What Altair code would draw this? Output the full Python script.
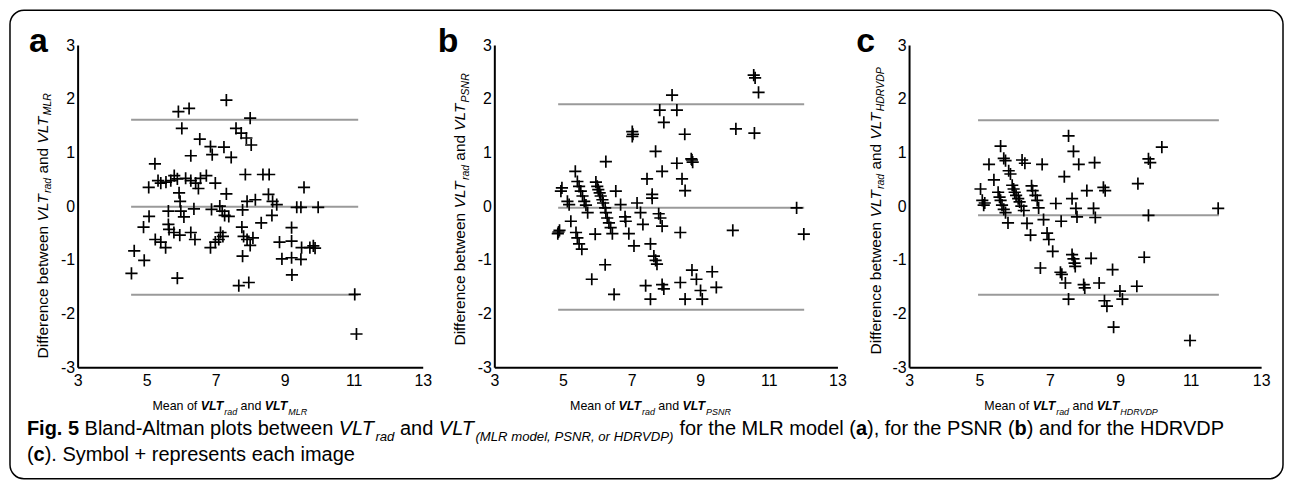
import altair as alt
import pandas as pd

# ---------------- data ----------------
a_x = [7.31, 5.92, 6.23, 8.00, 6.02, 7.59, 7.74, 7.89, 8.03, 6.54, 6.85, 6.90, 7.24, 7.45, 6.28, 5.24, 7.86, 8.37, 8.55, 9.56, 5.06,
       5.33, 5.41, 5.56, 5.70, 5.80, 5.89, 6.13, 6.28, 6.42, 6.56, 6.73, 6.99, 6.50, 5.94,
       7.31, 5.97, 7.91, 8.15, 8.53, 8.65, 8.77, 9.35, 9.47, 9.97,
       5.63, 5.99, 6.37, 6.88, 7.12, 7.19, 7.26, 7.38, 7.78, 5.07, 6.08, 8.63, 8.32,
       4.91, 5.63, 5.65, 5.79, 5.96, 6.28, 6.40, 7.76, 7.14, 7.21, 7.09, 6.99, 6.85,
       9.20, 9.20, 8.85, 7.81, 7.91, 8.08, 8.00, 5.25, 5.41, 5.55, 9.49, 9.73, 9.88, 9.83,
       4.64, 4.93, 7.78, 8.92, 9.20, 9.47, 4.56, 5.89, 7.67, 7.96, 9.21, 11.03, 11.08]
a_y = [1.975, 1.76, 1.82, 1.64, 1.45, 1.45, 1.36, 1.27, 1.14, 1.25, 1.11, 0.96, 1.10, 0.91, 0.94, 0.79, 0.59, 0.59, 0.59, 0.35, 0.35,
       0.475, 0.43, 0.45, 0.475, 0.57, 0.51, 0.52, 0.475, 0.43, 0.52, 0.57, 0.43, 0.33, 0.25,
       0.23, 0.09, 0.09, 0.12, 0.22, 0.09, 0.03, -0.02, -0.02, -0.02,
       -0.09, -0.09, -0.05, -0.06, 0.0, -0.09, -0.17, -0.19, -0.07, -0.19, -0.20, -0.17, -0.31,
       -0.39, -0.34, -0.43, -0.49, -0.54, -0.49, -0.62, -0.39, -0.49, -0.56, -0.62, -0.67, -0.77,
       -0.40, -0.65, -0.67, -0.56, -0.62, -0.59, -0.73, -0.62, -0.67, -0.77, -0.77, -0.77, -0.78, -0.74,
       -0.83, -1.01, -0.93, -0.98, -0.96, -0.99, -1.25, -1.34, -1.48, -1.42, -1.28, -1.64, -2.38]
a_limits = [1.61, -0.01, -1.65]
a_span = [4.55, 11.13]

b_x = [8.18, 7.82, 8.32, 7.94, 8.55, 7.02, 7.02, 7.04, 7.70, 6.25, 8.32, 7.89, 8.76, 8.78, 8.74, 5.36, 7.45, 8.47, 8.56, 7.60, 7.60, 6.54, 4.97, 4.94, 5.13, 5.18,
       5.42, 5.47, 5.52, 5.57, 5.62, 5.67, 5.72,
       5.96, 6.00, 6.03, 6.07, 6.10, 6.15, 6.17, 6.23, 6.25, 6.29, 6.34, 6.39, 6.44,
       6.68, 6.81, 6.83, 7.16, 7.26, 7.33, 6.92, 7.07, 7.79, 7.84, 7.89, 8.42,
       5.23, 5.38, 5.42, 5.47, 5.55, 4.87, 4.90, 4.85, 5.94,
       7.55, 7.65, 7.70, 7.74, 6.23, 5.84, 6.49, 7.41, 7.55, 7.89, 7.94, 8.42, 8.56, 8.76,
       10.56, 10.60, 10.70, 10.04, 10.58, 11.81, 9.95, 12.02, 8.89, 9.35, 9.47, 9.01, 9.06]
b_y = [2.07, 1.79, 1.79, 1.56, 1.34, 1.39, 1.30, 1.34, 1.02, 0.83, 0.80, 0.65, 0.86, 0.82, 0.88, 0.65, 0.51, 0.51, 0.29, 0.22, 0.15, 0.28, 0.34, 0.28, 0.09, 0.03,
       0.46, 0.37, 0.28, 0.19, 0.09, 0.02, -0.12,
       0.45, 0.37, 0.31, 0.25, 0.19, 0.12, 0.06, -0.03, -0.12, -0.22, -0.31, -0.40, -0.51,
       0.03, -0.20, -0.28, 0.06, -0.12, -0.34, -0.51, -0.74, -0.14, -0.22, -0.37, -0.49,
       -0.28, -0.49, -0.59, -0.70, -0.80, -0.48, -0.45, -0.51, -0.52,
       -0.70, -0.93, -1.01, -1.08, -1.09, -1.36, -1.64, -1.48, -1.73, -1.46, -1.54, -1.42, -1.73, -1.19,
       2.44, 2.39, 2.12, 1.44, 1.36, -0.03, -0.45, -0.52, -1.36, -1.22, -1.51, -1.57, -1.73]
b_limits = [1.90, -0.03, -1.93]
b_span = [4.86, 12.03]

c_x = [7.53, 7.67, 7.82, 8.27, 7.41, 5.60, 5.27, 5.69, 5.74, 5.83, 5.88, 5.41, 6.21, 6.29, 6.78, 5.03, 5.08, 5.12, 5.15,
       5.53, 5.57, 5.60, 5.64, 5.69, 5.74, 5.81,
       5.93, 5.97, 6.00, 6.04, 6.10, 6.14, 6.19, 6.26,
       6.48, 6.51, 6.59, 6.64, 6.68, 6.35, 6.45, 6.82, 6.92, 6.97, 7.08, 7.17, 7.32, 7.63, 7.74, 7.77, 8.05, 8.24, 8.29,
       6.73, 7.63, 7.67, 7.70, 7.72, 8.17, 7.30, 7.34, 7.44, 7.96, 7.99, 8.40, 7.53,
       10.18, 9.80, 9.85, 8.52, 8.57, 9.50, 9.80, 11.78, 9.68, 8.78, 9.47, 8.99, 9.06, 8.55, 8.62, 8.81, 10.98]
c_y = [1.31, 1.02, 0.78, 0.81, 0.55, 1.12, 0.78, 0.89, 0.85, 0.66, 0.60, 0.49, 0.86, 0.80, 0.78, 0.32, 0.11, 0.02, 0.06,
       0.26, 0.17, 0.11, 0.02, -0.06, -0.12, -0.31,
       0.39, 0.32, 0.26, 0.20, 0.14, 0.08, 0.00, -0.08,
       0.38, 0.29, 0.20, 0.11, -0.03, -0.32, -0.54, -0.25, -0.50, -0.62, -0.84, 0.05, -0.28, 0.14, -0.04, -0.20, 0.29, -0.04, -0.21,
       -1.15, -0.90, -0.98, -1.06, -1.12, -0.97, -1.23, -1.27, -1.43, -1.46, -1.52, -1.43, -1.73,
       1.10, 0.88, 0.81, 0.35, 0.29, 0.42, -0.17, -0.04, -0.95, -1.18, -1.49, -1.58, -1.73, -1.76, -1.86, -2.25, -2.50]
c_limits = [1.60, -0.17, -1.65]
c_span = [4.96, 11.80]

x_ticks = [3, 5, 7, 9, 11, 13]
y_ticks = [-3, -2, -1, 0, 1, 2, 3]

# ---------------- text helpers (Arial / Liberation Sans metrics) ----------------
_W = {' ': 278, '(': 333, ')': 333, ',': 278, '.': 278, '-': 333, '+': 584}
for _d in '0123456789':
    _W[_d] = 556
_W.update(dict(A=667, B=667, C=722, D=722, E=667, F=611, G=778, H=722, I=278, J=500, K=667, L=556, M=833,
               N=722, O=778, P=667, Q=778, R=722, S=667, T=611, U=722, V=667, W=944, X=667, Y=667, Z=611))
_W.update(dict(a=556, b=556, c=500, d=556, e=556, f=278, g=556, h=556, i=222, j=222, k=500, l=222, m=833,
               n=556, o=556, p=556, q=556, r=333, s=500, t=278, u=556, v=500, w=722, x=500, y=500, z=500))
_WB = dict(_W)
_WB.update(dict(b=611, c=556, g=611, i=278, l=278, F=611, L=611))


def text_width(s, size, style):
    tbl = _WB if 'b' in style else _W
    return sum(tbl.get(ch, 556) for ch in s) / 1000.0 * size


def rich(pieces, x0, y0, size, sub_ratio, sub_drop, vertical=False):
    rows = []
    pos = 0.0
    for text, style, sub in pieces:
        s = size * sub_ratio if sub else size
        off = size * sub_drop if sub else 0.0
        stripped = text.lstrip(' ')
        lead = text_width(text[:len(text) - len(stripped)], s, style)
        stripped = stripped.rstrip(' ')
        if stripped:
            if vertical:
                rows.append(dict(px=x0 + off, py=y0 - pos - lead, text=stripped, fs=s, style=style))
            else:
                rows.append(dict(px=x0 + pos + lead, py=y0 + off, text=stripped, fs=s, style=style))
        pos += text_width(text, s, style)
    return rows


def total_width(pieces, sub_ratio):
    return sum(text_width(t, sub_ratio if sub else 1.0, st) for t, st, sub in pieces)


STYLE = {'n': ('normal', 'normal'), 'i': ('italic', 'normal'), 'b': ('normal', 'bold'), 'bi': ('italic', 'bold')}
ONE = pd.DataFrame({'k': [0]})
SANS = 'Liberation Sans, Arial, sans-serif'


def text_layers(rows, angle=0):
    out = []
    for r in rows:
        fstyle, fweight = STYLE[r['style']]
        out.append(
            alt.Chart(ONE).mark_text(text=r['text'], align='left', baseline='alphabetic', font=SANS,
                                     fontSize=round(r['fs'], 2), fontStyle=fstyle, fontWeight=fweight,
                                     color='black', angle=angle)
            .encode(x=alt.value(round(r['px'], 2)), y=alt.value(round(r['py'], 2)))
        )
    return out


CROSS = 'M-1,0L1,0M0,-1L0,1'
H = 324


def panel(xs, ys, limits, span, width, letter, letter_x, model, ytitle_x, ytitle_y0, xtitle_c, extra=None):
    xsc = alt.Scale(domain=[3, 13], nice=False, zero=False)
    ysc = alt.Scale(domain=[-3, 3], nice=False, zero=False)
    common = dict(title=None, grid=False, ticks=False, domainColor='black', domainWidth=2,
                  labelFont=SANS, labelFontSize=16, labelColor='black', labelExpr="'' + datum.value")
    xax = alt.Axis(values=x_ticks, labelPadding=5, labelFlush=False, **common)
    yax = alt.Axis(values=y_ticks, labelPadding=3, **common)
    pts = pd.DataFrame({'x': xs, 'y': ys})
    points = alt.Chart(pts).mark_point(shape=CROSS, size=150, filled=False, color='black',
                                       strokeWidth=1.7, opacity=1).encode(
        x=alt.X('x:Q', scale=xsc, axis=xax), y=alt.Y('y:Q', scale=ysc, axis=yax))
    ld = pd.DataFrame({'y': limits, 'x': [span[0]] * 3, 'x2': [span[1]] * 3})
    rules = alt.Chart(ld).mark_rule(color='#9a9a9a', strokeWidth=2).encode(
        x=alt.X('x:Q', scale=xsc), x2='x2:Q', y=alt.Y('y:Q', scale=ysc))

    layers = [rules, points]
    layers += text_layers([dict(px=letter_x, py=7, text=letter, fs=34, style='b')])
    ypieces = [('Difference between ', 'n', False), ('VLT', 'i', False), ('rad', 'i', True),
               (' and ', 'n', False), ('VLT', 'i', False), (model, 'i', True)]
    layers += text_layers(rich(ypieces, ytitle_x, ytitle_y0, 15.5, 0.68, 0.2, vertical=True), angle=270)
    xpieces = [('Mean of ', 'n', False), ('VLT', 'bi', False), ('rad', 'i', True),
               (' and ', 'n', False), ('VLT', 'bi', False), (model, 'i', True)]
    xs_size = 12.5
    x0 = xtitle_c - total_width(xpieces, 0.72) * xs_size / 2
    layers += text_layers(rich(xpieces, x0, 367, xs_size, 0.72, 0.42))
    if extra:
        layers += extra
    return alt.layer(*layers).properties(width=width, height=H)


# caption + frame (drawn relative to panel a)
cap1 = [('Fig. 5', 'b', False), (' Bland-Altman plots between ', 'n', False), ('VLT', 'i', False), ('rad', 'i', True),
        (' and ', 'n', False), ('VLT', 'i', False), ('(MLR model, PSNR, or HDRVDP)', 'i', True),
        (' for the MLR model (', 'n', False), ('a', 'b', False), ('), for the PSNR (', 'n', False),
        ('b', 'b', False), (') and for the HDRVDP', 'n', False)]
cap2 = [('(', 'n', False), ('c', 'b', False), ('). Symbol + represents each image', 'n', False)]
cap_size = 1204 / total_width(cap1, 0.66)
cap_rows = rich(cap1, -51, 392, cap_size, 0.66, 0.28) + rich(cap2, -51, 418, cap_size, 0.66, 0.28)
frame = alt.Chart(ONE).mark_rect(
    fillOpacity=0, stroke='black', strokeWidth=1.5, cornerRadius=14).encode(
    x=alt.value(-68), x2=alt.value(1212), y=alt.value(-35), y2=alt.value(436))
extra_a = [frame] + text_layers(cap_rows)

pa = panel(a_x, a_y, a_limits, a_span, 347, 'a', -49, 'MLR', -30, 315, 153, extra_a)
pb = panel(b_x, b_y, b_limits, b_span, 345, 'b', -57, 'PSNR', -29, 302, 157)
pc = panel(c_x, c_y, c_limits, c_span, 354, 'c', -53, 'HDRVDP', -28, 311, 163)

chart = alt.hconcat(pa, pb, pc, spacing=72, bounds='flush').properties(
    padding={'left': 1, 'top': 0, 'right': 0, 'bottom': 0}, background='white'
).configure_view(strokeWidth=0)

chart.save('out.html', embed_options={'renderer': 'svg', 'actions': False})
